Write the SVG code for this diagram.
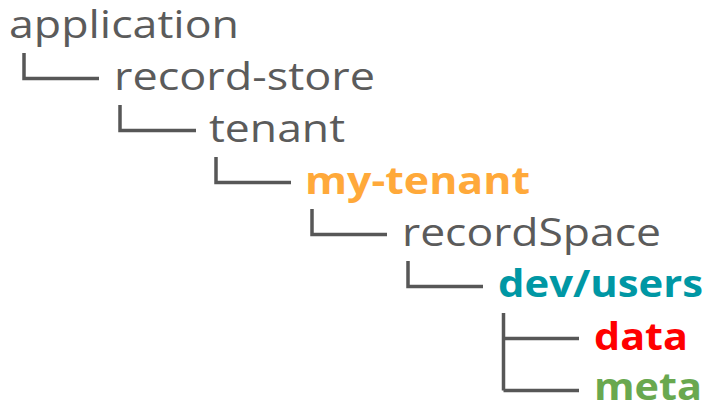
<svg xmlns="http://www.w3.org/2000/svg" width="707" height="405" viewBox="0 0 707 405">
  <style>
    .lbl { font-family: "Open Sans", "DejaVu Sans", sans-serif; font-size: 38px; fill: #5b5b5b; }
    .b { font-weight: 700; }
    .tree { fill: none; stroke: #575757; stroke-width: 3.5; stroke-linecap: butt; }
  </style>
  <rect width="707" height="405" fill="#ffffff"/>
  <!-- elbow connectors, one indent level (≈96px) per depth -->
  <g id="connectors" class="tree">
    <path d="M24 53 V78.5 H99"/>
    <path d="M120 105 V130.5 H196"/>
    <path d="M216 157 V182.5 H291"/>
    <path d="M312 209 V234.5 H387"/>
    <path d="M408 261 V286.5 H483"/>
    <path d="M503.5 313 V390.5 M503.5 338.5 H579 M503.5 390.5 H579"/>
  </g>
  <g id="application"><text class="lbl" x="9" y="38" textLength="230" lengthAdjust="spacingAndGlyphs">application</text></g>
  <g id="record-store"><text class="lbl" x="114" y="90" textLength="261" lengthAdjust="spacingAndGlyphs">record-store</text></g>
  <g id="tenant"><text class="lbl" x="209" y="142" textLength="136" lengthAdjust="spacingAndGlyphs">tenant</text></g>
  <g id="my-tenant"><text class="lbl b" x="305" y="194" textLength="225" lengthAdjust="spacingAndGlyphs" style="fill:#ffa93a">my-tenant</text></g>
  <g id="recordSpace"><text class="lbl" x="402" y="246" textLength="259" lengthAdjust="spacingAndGlyphs">recordSpace</text></g>
  <g id="dev-users"><text class="lbl b" x="498" y="297" textLength="205" lengthAdjust="spacingAndGlyphs" style="fill:#0097a4">dev/users</text></g>
  <g id="data"><text class="lbl b" x="594" y="350" textLength="94" lengthAdjust="spacingAndGlyphs" style="fill:#ff0000">data</text></g>
  <g id="meta"><text class="lbl b" x="594" y="400" textLength="108" lengthAdjust="spacingAndGlyphs" style="fill:#69a84f">meta</text></g>
</svg>
